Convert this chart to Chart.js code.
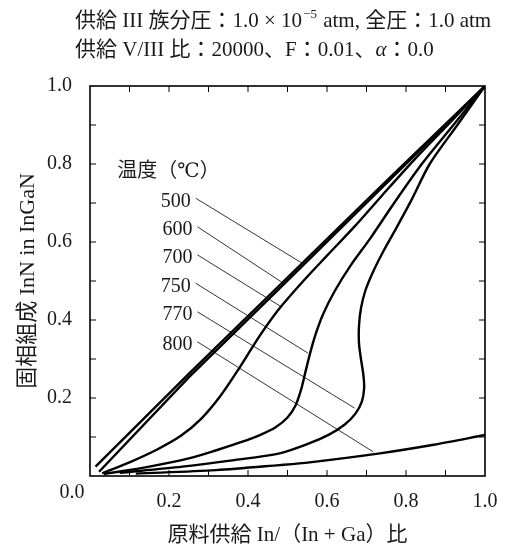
<!DOCTYPE html>
<html>
<head>
<meta charset="utf-8">
<script src="https://cdn.jsdelivr.net/npm/chart.js@4.4.1/dist/chart.umd.min.js"></script>
<style>
  html, body { margin: 0; padding: 0; background: #fff; }
  #wrap { width: 509px; height: 548px; position: relative; }
</style>
</head>
<body>
<div id="wrap"><canvas id="chart"></canvas></div>
<script>
const FONT = "'Liberation Serif', 'DejaVu Serif', 'Noto Sans CJK JP', serif";

/* --------------- Data (feed ratio x -> solid InN fraction y) --------------- */
const temps = ["500", "600", "700", "750", "770", "800"];

const x500 = [0.014, 0.25, 0.5, 0.75, 1.0];
const y500 = [0.024, 0.262, 0.509, 0.756, 1.0];

const x600 = [0.023, 0.25, 0.5, 0.75, 1.0];
const y600 = [0.011, 0.253, 0.501, 0.75, 1.0];

const x700 = [0.031, 0.1, 0.17, 0.23, 0.28, 0.33, 0.38, 0.43, 0.48, 0.54, 0.6, 0.67, 0.74, 0.82, 0.91, 1.0];
const y700 = [0.007, 0.035, 0.068, 0.103, 0.145, 0.205, 0.28, 0.36, 0.43, 0.5, 0.565, 0.64, 0.72, 0.81, 0.905, 1.0];

const x750 = [0.035, 0.15, 0.25, 0.32, 0.38, 0.43, 0.47, 0.5, 0.52, 0.534, 0.545, 0.556, 0.57, 0.59, 0.62, 0.66, 0.71, 0.77, 0.84, 0.92, 1.0];
const y750 = [0.005, 0.024, 0.045, 0.066, 0.086, 0.105, 0.125, 0.15, 0.18, 0.22, 0.265, 0.31, 0.36, 0.415, 0.475, 0.54, 0.61, 0.70, 0.80, 0.90, 1.0];

const x770 = [0.075, 0.234, 0.36, 0.48, 0.556, 0.605, 0.645, 0.672, 0.688, 0.694, 0.692, 0.686, 0.681, 0.681, 0.686, 0.697, 0.715, 0.742, 0.775, 0.815, 0.86, 0.93, 1.0];
const y770 = [0.008, 0.024, 0.04, 0.058, 0.084, 0.106, 0.132, 0.16, 0.19, 0.225, 0.26, 0.3, 0.34, 0.385, 0.43, 0.475, 0.52, 0.575, 0.635, 0.71, 0.80, 0.90, 1.0];

const x800 = [0.116, 0.319, 0.48, 0.556, 0.734, 0.87, 1.0];
const y800 = [0.006, 0.015, 0.028, 0.035, 0.058, 0.08, 0.105];

/* --------------- Leader lines from labels to curves --------------- */
const leadStartX = [0.268, 0.272, 0.272, 0.268, 0.272, 0.272];
const leadStartY = [0.712, 0.639, 0.567, 0.494, 0.421, 0.344];
const leadEndX = [0.535, 0.484, 0.484, 0.552, 0.67, 0.717];
const leadEndY = [0.547, 0.498, 0.434, 0.315, 0.174, 0.062];

/* --------------- Axes --------------- */
const tickValues = [0.1, 0.2, 0.3, 0.4, 0.5, 0.6, 0.7, 0.8, 0.9];

const toPoints = (xs, ys) => xs.map((v, i) => ({ x: v, y: ys[i] }));

const curves = [
    { xs: x500, ys: y500, tension: 0 },
    { xs: x600, ys: y600, tension: 0 },
    { xs: x700, ys: y700, tension: 0.3 },
    { xs: x750, ys: y750, tension: 0.3 },
    { xs: x770, ys: y770, tension: 0.3 },
    { xs: x800, ys: y800, tension: 0.3 },
];

const datasets = curves.map((c, i) => ({
    label: temps[i],
    data: toPoints(c.xs, c.ys),
    borderColor: "#000",
    borderWidth: 2.4,
    pointRadius: 0,
    tension: c.tension,
    fill: false,
}));

temps.forEach((t, i) => {
    datasets.push({
        label: t + " leader",
        data: [{ x: leadStartX[i], y: leadStartY[i] }, { x: leadEndX[i], y: leadEndY[i] }],
        borderColor: "#333",
        borderWidth: 1,
        pointRadius: 0,
        tension: 0,
    });
});

/* --------------- Frame, inward ticks, texts --------------- */
const framePlugin = {
    id: "frame",
    afterDatasetsDraw(chart) {
        const { ctx, chartArea: a, scales: { x, y } } = chart;
        ctx.save();
        ctx.strokeStyle = "#000";
        ctx.lineWidth = 1.6;
        ctx.strokeRect(a.left, a.top, a.right - a.left, a.bottom - a.top);

        ctx.lineWidth = 1;
        const tl = 6;
        ctx.beginPath();
        for (const v of tickValues) {
            const px = x.getPixelForValue(v);
            const py = y.getPixelForValue(v);
            ctx.moveTo(px, a.bottom); ctx.lineTo(px, a.bottom - tl);
            ctx.moveTo(px, a.top); ctx.lineTo(px, a.top + tl);
            ctx.moveTo(a.left, py); ctx.lineTo(a.left + tl, py);
            ctx.moveTo(a.right, py); ctx.lineTo(a.right - tl, py);
        }
        ctx.stroke();

        // corner label shared by both axes
        ctx.fillStyle = "#1a1a1a";
        ctx.font = "20px " + FONT;
        ctx.textAlign = "center";
        ctx.textBaseline = "middle";
        ctx.fillText("0.0", a.left - 18, a.bottom + 17);

        // temperature labels
        ctx.textAlign = "left";
        ctx.fillText("温度（℃）", x.getPixelForValue(0.069), y.getPixelForValue(0.78));
        ctx.textAlign = "right";
        temps.forEach((t, i) => {
            ctx.fillText(t, x.getPixelForValue(leadStartX[i]) - 5, y.getPixelForValue(leadStartY[i]) + 3);
        });

        // header lines
        ctx.textAlign = "left";
        ctx.textBaseline = "alphabetic";
        ctx.font = "21px " + FONT;
        let tx = 75;
        const part1 = "供給 III 族分圧：1.0 × 10";
        ctx.fillText(part1, tx, 27);
        tx += ctx.measureText(part1).width;
        ctx.font = "13px " + FONT;
        ctx.fillText("−5", tx + 1, 18);
        tx += ctx.measureText("−5").width + 2;
        ctx.font = "21px " + FONT;
        ctx.fillText(" atm, 全圧：1.0 atm", tx, 27);

        tx = 75;
        const part2 = "供給 V/III 比：20000、F：0.01、";
        ctx.fillText(part2, tx, 56);
        tx += ctx.measureText(part2).width;
        ctx.font = "italic 21px " + FONT;
        ctx.fillText("α", tx, 56);
        tx += ctx.measureText("α").width;
        ctx.font = "21px " + FONT;
        ctx.fillText("：0.0", tx, 56);
        ctx.restore();
    },
};

/* --------------- Chart --------------- */
const tickLabel = (v) => (Math.abs(v) < 1e-9 ? "" : Number(v).toFixed(1));

new Chart(document.getElementById("chart"), {
    type: "line",
    data: { datasets },
    plugins: [framePlugin],
    options: {
        responsive: true,
        maintainAspectRatio: false,
        animation: false,
        layout: { padding: { top: 86, right: 24, left: 0, bottom: 0 } },
        plugins: {
            legend: { display: false },
            tooltip: { enabled: false },
        },
        scales: {
            x: {
                type: "linear",
                min: 0,
                max: 1,
                afterFit: (s) => { s.height = 72; },
                grid: { display: false },
                border: { display: false },
                ticks: {
                    stepSize: 0.2,
                    color: "#1a1a1a",
                    padding: 6,
                    maxRotation: 0,
                    font: { family: FONT, size: 20 },
                    callback: tickLabel,
                },
                title: {
                    display: true,
                    text: "原料供給 In/（In + Ga）比",
                    color: "#1a1a1a",
                    font: { family: FONT, size: 21 },
                    padding: { top: 0, bottom: 0 },
                },
            },
            y: {
                type: "linear",
                min: 0,
                max: 1,
                afterFit: (s) => { s.width = 90; },
                grid: { display: false },
                border: { display: false },
                ticks: {
                    stepSize: 0.2,
                    color: "#1a1a1a",
                    padding: 10,
                    font: { family: FONT, size: 20 },
                    callback: tickLabel,
                },
                title: {
                    display: true,
                    text: "固相組成 InN in InGaN",
                    color: "#1a1a1a",
                    font: { family: FONT, size: 22 },
                    padding: { top: 15, bottom: 0 },
                },
            },
        },
    },
});
</script>
</body>
</html>
